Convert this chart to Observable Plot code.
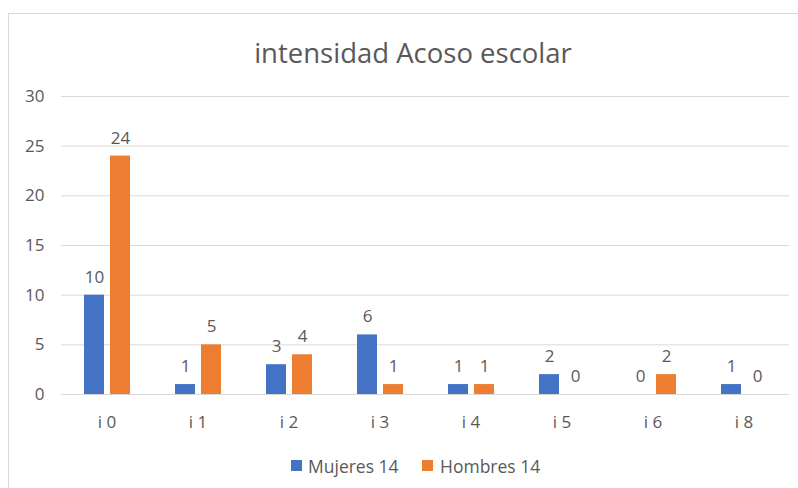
<!DOCTYPE html>
<html>
<head>
<meta charset="utf-8">
<script src="https://cdn.jsdelivr.net/npm/d3@7"></script>
<script src="https://cdn.jsdelivr.net/npm/@observablehq/plot@0.6"></script>
<style>
  html, body { margin: 0; padding: 0; background: #fff; }
  body { width: 798px; height: 488px; overflow: hidden; position: relative; font-family: "Open Sans", sans-serif; color: #595959; }
  #frame { position: absolute; left: 8px; top: 13px; width: 820px; height: 520px; border: 1px solid #d9d9d9; box-sizing: border-box; }
  #title { position: absolute; left: 413px; top: 39px; transform: translateX(-50%); font-size: 27.5px; line-height: 27px; white-space: nowrap; }
  #chart { position: absolute; left: 0; top: 80px; }
  .sw { position: absolute; width: 11px; height: 11px; top: 460px; }
  .lt { position: absolute; top: 458px; font-size: 17.5px; line-height: 17px; white-space: nowrap; }
</style>
</head>
<body>
<div id="frame"></div>
<div id="title">intensidad Acoso escolar</div>
<div id="chart"></div>
<div id="legend"></div>
<script>
const categories = ["i 0", "i 1", "i 2", "i 3", "i 4", "i 5", "i 6", "i 8"];
const series = ["Mujeres 14", "Hombres 14"];
const mujeres = [10, 1, 3, 6, 1, 2, 0, 1];
const hombres = [24, 5, 4, 1, 1, 0, 2, 0];
const colors = ["#4472C4", "#ED7D31"];
const yTicks = [0, 5, 10, 15, 20, 25, 30];

const data = categories.flatMap((c, i) => [
  {cat: c, series: series[0], value: mujeres[i]},
  {cat: c, series: series[1], value: hombres[i]}
]);

const chart = Plot.plot({
  width: 798,
  height: 360,
  marginLeft: 60,
  marginRight: 9,
  marginTop: 16,
  marginBottom: 46,
  style: {fontFamily: "Open Sans, sans-serif", fontSize: "17px", color: "#595959", background: "transparent"},
  fx: {domain: categories, padding: 0, label: null},
  x: {domain: series, paddingInner: 0.24, paddingOuter: 0.81, axis: null},
  y: {domain: [0, 30]},
  color: {domain: series, range: colors},
  marks: [
    Plot.ruleY(yTicks, {stroke: "#d9d9d9", strokeWidth: 1}),
    Plot.axisY({ticks: yTicks, tickSize: 0, tickPadding: 17, label: null, fontSize: 17}),
    Plot.axisFx({anchor: "bottom", tickSize: 0, tickPadding: 21, label: null, fontSize: 17}),
    Plot.barY(data, {fx: "cat", x: "series", y: "value", fill: "series"}),
    Plot.text(data, {fx: "cat", x: "series", y: "value", text: d => String(d.value), dy: -18, fill: "#595959", fontSize: 17})
  ]
});
document.getElementById("chart").appendChild(chart);

const legend = document.getElementById("legend");
const legendPos = [{sw: 291, tx: 308}, {sw: 422, tx: 440}];
series.forEach((s, i) => {
  const sw = document.createElement("div");
  sw.className = "sw";
  sw.style.left = legendPos[i].sw + "px";
  sw.style.background = colors[i];
  legend.appendChild(sw);
  const t = document.createElement("div");
  t.className = "lt";
  t.style.left = legendPos[i].tx + "px";
  t.textContent = s;
  legend.appendChild(t);
});
</script>
</body>
</html>
